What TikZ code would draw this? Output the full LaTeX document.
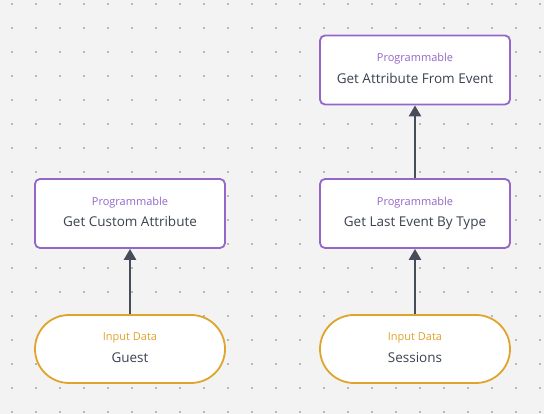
\documentclass[tikz,border=0pt]{standalone}
\usepackage{fontspec}
\setmainfont{Open Sans}
\usetikzlibrary{arrows.meta}
\definecolor{bgc}{HTML}{F3F3F3}
\definecolor{dotc}{HTML}{B8B8B8}
\definecolor{purp}{HTML}{9466C9}
\definecolor{orng}{HTML}{E0A42A}
\definecolor{txt}{HTML}{3A4250}
\definecolor{arr}{HTML}{464C58}
\tikzset{
  progbox/.style={draw=purp, line width=1.8pt, fill=white, rounded corners=5pt,
    minimum width=190pt, minimum height=69pt, inner sep=0pt, align=center},
  inbox/.style={draw=orng, line width=1.8pt, fill=white, rounded corners=34pt,
    minimum width=190pt, minimum height=68pt, inner sep=0pt, align=center},
  conn/.style={draw=arr, line width=2.4pt, -{Triangle[length=11pt,width=12pt]}},
}
\newcommand{\progtxt}[1]{\raisebox{2pt}{\begin{tabular}{@{}c@{}}{\fontsize{11pt}{13pt}\selectfont\color{purp}Programmable}\\[7.5pt]{\fontsize{13.5pt}{15pt}\selectfont\color{txt}#1}\end{tabular}}}
\newcommand{\intxt}[1]{\raisebox{1pt}{\begin{tabular}{@{}c@{}}{\fontsize{11pt}{13pt}\selectfont\color{orng}Input Data}\\[8pt]{\fontsize{13.5pt}{15pt}\selectfont\color{txt}#1}\end{tabular}}}
\begin{document}
\begin{tikzpicture}[x=1pt,y=1pt]
\fill[bgc] (0,0) rectangle (544,414);
\useasboundingbox (0,0) rectangle (544,414);
\foreach \i in {0,...,22} {
  \foreach \j in {0,...,17} {
    \fill[dotc] (12+24*\i-0.8, 410-24*\j-0.8) rectangle ++(1.6,1.6);
  }
}
\node[progbox] (gcattr) at (130,414-213.5) {\progtxt{Get Custom Attribute}};
\node[progbox] (glast) at (415,414-213.5) {\progtxt{Get Last Event By Type}};
\node[progbox] (gafe) at (415,414-70) {\progtxt{Get Attribute From Event}};
\node[inbox] (guest) at (130,414-349) {\intxt{Guest}};
\node[inbox] (sess) at (415,414-349) {\intxt{Sessions}};
\draw[conn] (guest) -- (gcattr);
\draw[conn] (sess) -- (glast);
\draw[conn] (glast) -- (gafe);
\end{tikzpicture}
\end{document}
